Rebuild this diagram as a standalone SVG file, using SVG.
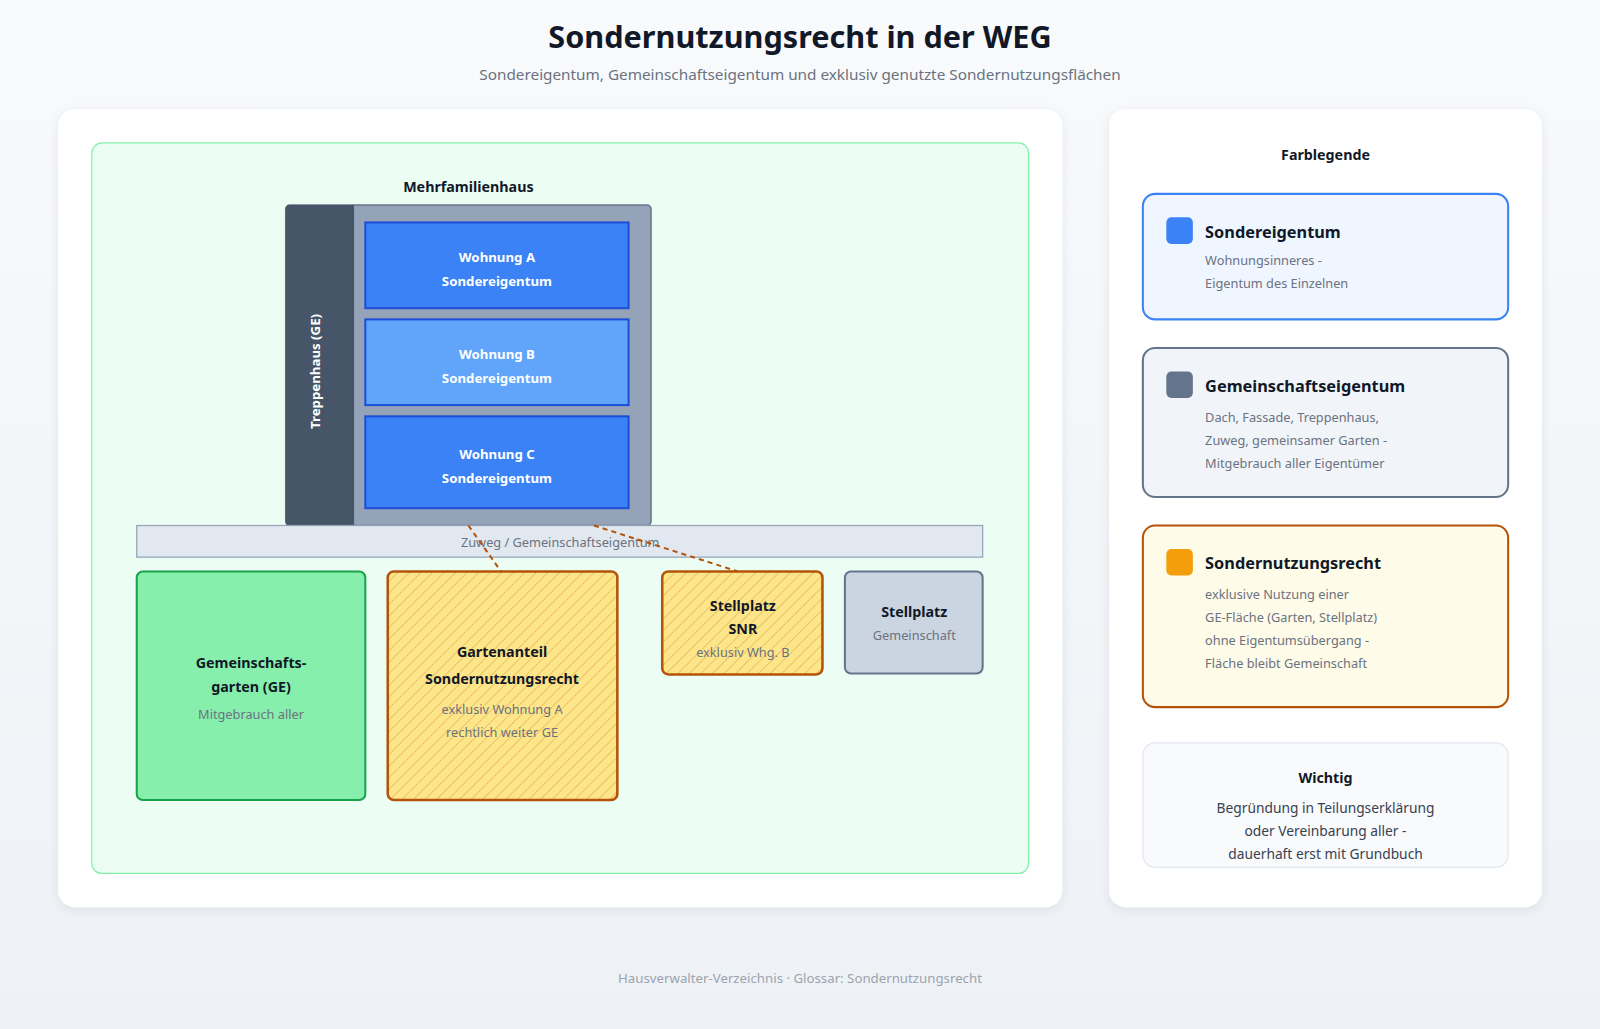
<svg xmlns="http://www.w3.org/2000/svg" width="1600" height="1029" viewBox="0 0 1600 1029">
<defs>
<linearGradient id="bg" x1="0" y1="0" x2="0" y2="1"><stop offset="0" stop-color="#f8fafc"/><stop offset="1" stop-color="#eef2f6"/></linearGradient>
<pattern id="hatch" width="8" height="8" patternUnits="userSpaceOnUse" patternTransform="rotate(45)"><rect width="8" height="8" fill="#fde68a"/><line x1="0" y1="0" x2="0" y2="8" stroke="#e0a040" stroke-width="1"/></pattern>
<filter id="sh" x="-5%" y="-5%" width="110%" height="110%"><feDropShadow dx="0" dy="3" stdDeviation="5" flood-color="#0f172a" flood-opacity="0.08"/></filter>
<style>
text{font-family:"Noto Sans","Open Sans","DejaVu Sans",sans-serif;text-anchor:middle}
.b{font-weight:700}
.w{fill:#fff;font-weight:700;font-size:13px}
.d{fill:#111827;font-weight:700;font-size:14px}
.s{fill:#6b7280;font-size:12.5px}
.lt{fill:#111827;font-weight:700;font-size:16px;text-anchor:start}
.ls{fill:#6b7280;font-size:12.5px;text-anchor:start}
</style>
</defs>
<rect width="1600" height="1029" fill="url(#bg)"/>
<g transform="scale(1.020408)">
<text x="784" y="47" class="b" font-size="30" fill="#111827">Sondernutzungsrecht in der WEG</text>
<text x="784" y="78" font-size="15" fill="#6b7280">Sondereigentum, Gemeinschaftseigentum und exklusiv genutzte Sondernutzungsflächen</text>
<rect x="57" y="107" width="984" height="782" rx="16" fill="#fff" filter="url(#sh)"/>
<rect x="1087" y="107" width="424" height="782" rx="16" fill="#fff" filter="url(#sh)"/>
<rect x="90" y="140" width="918" height="716" rx="10" fill="#ecfdf3" stroke="#86efac" stroke-width="1.2"/>

<g id="haus">
<text x="459" y="188" class="d">Mehrfamilienhaus</text>
<rect x="280" y="201" width="358" height="314" rx="4" fill="#94a3b8" stroke="#64748b" stroke-width="1.5"/>
<path d="M284 201 H347 V515 H284 Q280 515 280 511 V205 Q280 201 284 201Z" fill="#475569"/>
</g>
<g id="treppenhaus"><text transform="translate(314 364) rotate(-90)" class="w" font-size="12.5">Treppenhaus (GE)</text></g>
<g id="wohnungA"><rect x="358" y="218" width="258" height="84" fill="#3b82f6" stroke="#1d4ed8" stroke-width="2"/>
<text x="487" y="257" class="w">Wohnung A</text><text x="487" y="280" class="w">Sondereigentum</text></g>
<g id="wohnungB"><rect x="358" y="313" width="258" height="84" fill="#60a5fa" stroke="#1d4ed8" stroke-width="2"/>
<text x="487" y="352" class="w">Wohnung B</text><text x="487" y="375" class="w">Sondereigentum</text></g>
<g id="wohnungC"><rect x="358" y="408" width="258" height="90" fill="#3b82f6" stroke="#1d4ed8" stroke-width="2"/>
<text x="487" y="450" class="w">Wohnung C</text><text x="487" y="473" class="w">Sondereigentum</text></g>

<g id="zuweg"><rect x="134" y="515" width="829" height="31" fill="#e2e8f0" stroke="#94a3b8" stroke-width="1.2"/>
<text x="549" y="536" class="s">Zuweg / Gemeinschaftseigentum</text></g>

<g id="garten"><rect x="134" y="560" width="224" height="224" rx="6" fill="#86efac" stroke="#16a34a" stroke-width="2"/>
<text x="246" y="655" class="d">Gemeinschafts-</text><text x="246" y="678" class="d">garten (GE)</text>
<text x="246" y="705" class="s">Mitgebrauch aller</text></g>
<g id="gartenanteil"><rect x="380" y="560" width="225" height="224" rx="6" fill="url(#hatch)" stroke="#b45309" stroke-width="2.5"/>
<text x="492" y="644" class="d">Gartenanteil</text><text x="492" y="670" class="d">Sondernutzungsrecht</text>
<text x="492" y="700" class="s">exklusiv Wohnung A</text><text x="492" y="722" class="s">rechtlich weiter GE</text></g>
<g id="stellplatzSNR"><rect x="649" y="560" width="157" height="101" rx="6" fill="url(#hatch)" stroke="#b45309" stroke-width="2.5"/>
<text x="728" y="599" class="d">Stellplatz</text><text x="728" y="621" class="d">SNR</text>
<text x="728" y="644" class="s">exklusiv Whg. B</text></g>
<g id="stellplatz"><rect x="828" y="560" width="135" height="100" rx="6" fill="#cbd5e1" stroke="#64748b" stroke-width="2"/>
<text x="896" y="605" class="d">Stellplatz</text><text x="896" y="627" class="s">Gemeinschaft</text></g>

<g id="connectors" fill="none" stroke="#b45309" stroke-width="2" stroke-dasharray="5 4">
<path d="M459 515 L491 560"/><path d="M582 515 L723 560"/>
</g>

<g id="legende">
<text x="1299" y="157" class="d" font-size="15">Farblegende</text>
<rect x="1120" y="190" width="358" height="123" rx="12" fill="#eff6ff" stroke="#3b82f6" stroke-width="2"/>
<rect x="1143" y="213" width="26" height="26" rx="5" fill="#3b82f6"/>
<text x="1181" y="233" class="lt">Sondereigentum</text>
<text x="1181" y="260" class="ls">Wohnungsinneres -</text><text x="1181" y="282" class="ls">Eigentum des Einzelnen</text>
<rect x="1120" y="341" width="358" height="146" rx="12" fill="#f1f5f9" stroke="#64748b" stroke-width="2"/>
<rect x="1143" y="364" width="26" height="26" rx="5" fill="#64748b"/>
<text x="1181" y="384" class="lt">Gemeinschaftseigentum</text>
<text x="1181" y="414" class="ls">Dach, Fassade, Treppenhaus,</text><text x="1181" y="436" class="ls">Zuweg, gemeinsamer Garten -</text><text x="1181" y="459" class="ls">Mitgebrauch aller Eigentümer</text>
<rect x="1120" y="515" width="358" height="178" rx="12" fill="#fefce8" stroke="#b45309" stroke-width="2"/>
<rect x="1143" y="538" width="26" height="26" rx="5" fill="#f59e0b"/>
<text x="1181" y="558" class="lt">Sondernutzungsrecht</text>
<text x="1181" y="587" class="ls">exklusive Nutzung einer</text><text x="1181" y="610" class="ls">GE-Fläche (Garten, Stellplatz)</text><text x="1181" y="632" class="ls">ohne Eigentumsübergang -</text><text x="1181" y="655" class="ls">Fläche bleibt Gemeinschaft</text>
<rect x="1120" y="728" width="358" height="122" rx="12" fill="#f8fafc" stroke="#e2e8f0" stroke-width="1.2"/>
<text x="1299" y="767" class="d">Wichtig</text>
<text x="1299" y="797" font-size="13.5" fill="#374151">Begründung in Teilungserklärung</text>
<text x="1299" y="819" font-size="13.5" fill="#374151">oder Vereinbarung aller -</text>
<text x="1299" y="842" font-size="13.5" fill="#374151">dauerhaft erst mit Grundbuch</text>
</g>
<text x="784" y="963" font-size="13" fill="#9ca3af">Hausverwalter-Verzeichnis · Glossar: Sondernutzungsrecht</text>
</g>
</svg>
